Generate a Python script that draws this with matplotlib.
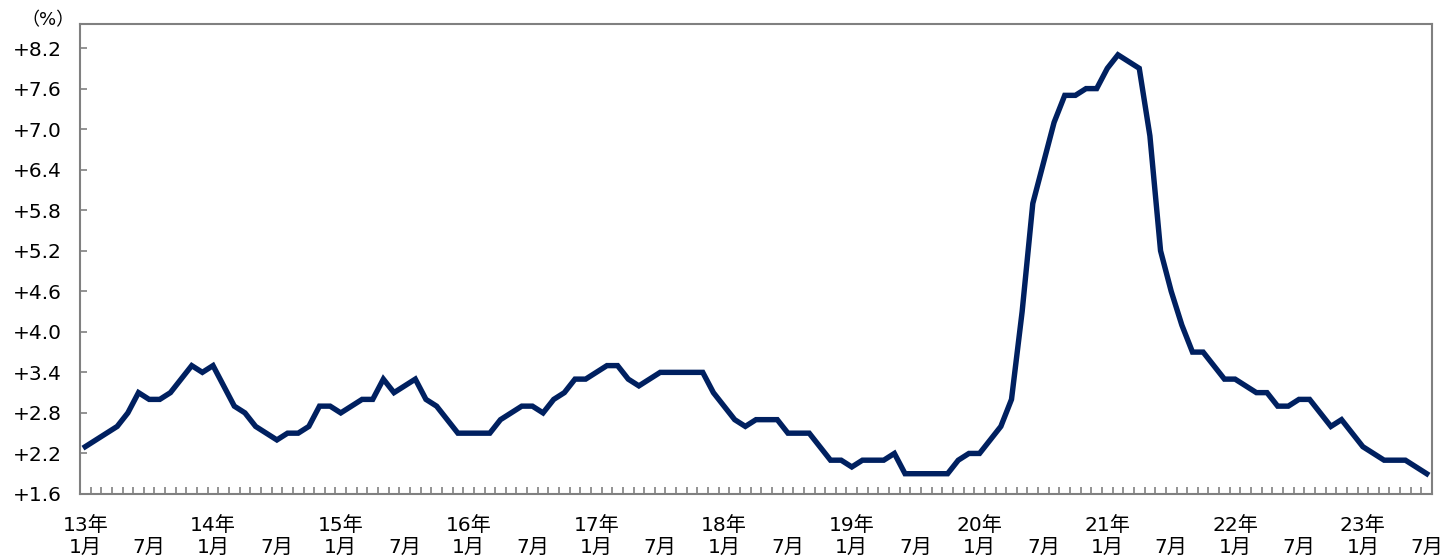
import numpy as np
import matplotlib
matplotlib.use("Agg")
import matplotlib.pyplot as plt

plt.rcParams['font.family'] = ['DejaVu Sans', 'Noto Sans CJK JP']

# 前年同月比（%）2013年1月〜2023年7月
values = [
    2.3, 2.4, 2.5, 2.6, 2.8, 3.1, 3.0, 3.0, 3.1, 3.3, 3.5, 3.4,   # 13年
    3.5, 3.2, 2.9, 2.8, 2.6, 2.5, 2.4, 2.5, 2.5, 2.6, 2.9, 2.9,   # 14年
    2.8, 2.9, 3.0, 3.0, 3.3, 3.1, 3.2, 3.3, 3.0, 2.9, 2.7, 2.5,   # 15年
    2.5, 2.5, 2.5, 2.7, 2.8, 2.9, 2.9, 2.8, 3.0, 3.1, 3.3, 3.3,   # 16年
    3.4, 3.5, 3.5, 3.3, 3.2, 3.3, 3.4, 3.4, 3.4, 3.4, 3.4, 3.1,   # 17年
    2.9, 2.7, 2.6, 2.7, 2.7, 2.7, 2.5, 2.5, 2.5, 2.3, 2.1, 2.1,   # 18年
    2.0, 2.1, 2.1, 2.1, 2.2, 1.9, 1.9, 1.9, 1.9, 1.9, 2.1, 2.2,   # 19年
    2.2, 2.4, 2.6, 3.0, 4.3, 5.9, 6.5, 7.1, 7.5, 7.5, 7.6, 7.6,   # 20年
    7.9, 8.1, 8.0, 7.9, 6.9, 5.2, 4.6, 4.1, 3.7, 3.7, 3.5, 3.3,   # 21年
    3.3, 3.2, 3.1, 3.1, 2.9, 2.9, 3.0, 3.0, 2.8, 2.6, 2.7, 2.5,   # 22年
    2.3, 2.2, 2.1, 2.1, 2.1, 2.0, 1.9,                            # 23年
]
years = ["13年", "14年", "15年", "16年", "17年", "18年", "19年", "20年", "21年", "22年", "23年"]
y_ticks = [1.6, 2.2, 2.8, 3.4, 4.0, 4.6, 5.2, 5.8, 6.4, 7.0, 7.6, 8.2]

n = len(values)
x = np.arange(n)

# 1月と7月にラベル
label_pos, label_txt = [], []
for i, yr in enumerate(years):
    label_pos.append(i * 12); label_txt.append(f"{yr}\n1月")
    if i * 12 + 6 < n:
        label_pos.append(i * 12 + 6); label_txt.append("\n7月")

fig = plt.figure(figsize=(14.43, 5.6), dpi=100)
ax = fig.add_axes([0.0554, 0.1179, 0.9370, 0.8391])
ax.plot(x, values, color="#002060", lw=3.9, solid_joinstyle="miter", zorder=3)

ax.set_xlim(-0.5, n - 0.5)
ax.set_ylim(1.6, 8.555)
ax.set_yticks(y_ticks)
ax.set_yticklabels([f"+{v:.1f}" for v in y_ticks])
ax.set_xticks(label_pos)
ax.set_xticklabels(label_txt, linespacing=1.15)
ax.set_xticks(np.arange(0.5, n - 1, 1.0), minor=True)

ax.tick_params(axis="y", direction="in", length=5, width=1.2, color="#808080",
               labelsize=14.5, pad=13)
ax.tick_params(axis="x", which="major", length=0, labelsize=14.5, pad=16)
ax.tick_params(axis="x", which="minor", direction="in", length=5, width=1.2, color="#808080")
for s in ax.spines.values():
    s.set_color("#808080"); s.set_linewidth(1.5)

fig.text(0.0335, 0.963, "（%）", fontsize=13, ha="center", va="center")
fig.savefig("out.png", dpi=100)
